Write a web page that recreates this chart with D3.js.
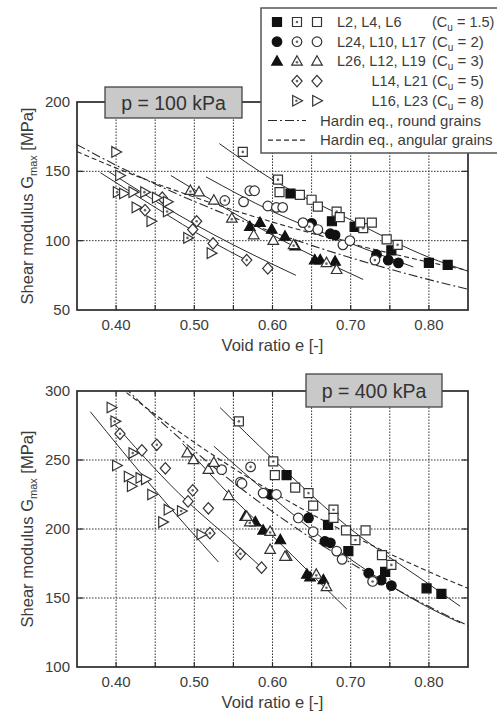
<!DOCTYPE html>
<html>
<head>
<meta charset="utf-8">
<script src="https://cdn.jsdelivr.net/npm/d3@7"></script>
<style>
  body { margin: 0; background: #fff; }
  svg { display: block; font-family: "Liberation Sans", Arial, Helvetica, sans-serif; }
</style>
</head>
<body>
<svg id="chart" width="497" height="713"></svg>
<script>
// ---------- axis ticks ----------
const xTickValues = [0.40, 0.50, 0.60, 0.70, 0.80];
const xGridValues = [0.40, 0.45, 0.50, 0.55, 0.60, 0.65, 0.70, 0.75, 0.80];
const yTicks100 = [50, 100, 150, 200];
const yGrid100 = [100, 150];
const yTicks400 = [100, 150, 200, 250, 300];
const yGrid400 = [150, 200, 250];

// ---------- Hardin equation, sampled along e ----------
const hardinE = [0.35, 0.40, 0.45, 0.50, 0.55, 0.60, 0.65, 0.70, 0.75, 0.80, 0.85];
const hardinRound100   = [169.3, 154.4, 140.8, 128.3, 116.8, 106.3, 96.6, 87.7, 79.5, 71.9, 65.0];
const hardinAngular100 = [164.2, 152.4, 141.5, 131.4, 122.0, 113.4, 105.4, 97.9, 91.0, 84.5, 78.5];
const hardinRound400   = [338.6, 308.8, 281.6, 256.6, 233.6, 212.6, 193.2, 175.4, 159.0, 143.8, 130.0];
const hardinAngular400 = [328.4, 304.8, 283.0, 262.8, 244.0, 226.8, 210.8, 195.8, 182.0, 169.0, 157.0];

// ---------- measured data, p = 100 kPa: [e, Gmax] ----------
const p100_L2  = [[0.623,134],[0.676,114],[0.705,110],[0.752,93],[0.800,84],[0.824,82.5]];
const p100_L4  = [[0.562,164],[0.607,144],[0.682,121],[0.716,109],[0.760,97]];
const p100_L6  = [[0.609,135],[0.635,133],[0.650,129.5],[0.658,124.5],[0.686,117],[0.712,113],[0.727,113],[0.746,101]];
const p100_L24 = [[0.650,112.5],[0.674,105],[0.680,104],[0.733,90],[0.748,86],[0.761,84]];
const p100_L10 = [[0.539,129],[0.571,136],[0.647,110],[0.731,86]];
const p100_L17 = [[0.563,128],[0.577,136],[0.594,125],[0.605,124],[0.613,124],[0.639,113],[0.658,108],[0.690,97],[0.699,100]];
const p100_L26 = [[0.571,110],[0.584,113],[0.599,108],[0.616,103],[0.629,96],[0.654,86],[0.661,86],[0.680,85]];
const p100_L12 = [[0.495,136],[0.548,116],[0.627,97],[0.669,84]];
const p100_L19 = [[0.506,135],[0.525,129],[0.576,104],[0.601,100],[0.682,79]];
const p100_L14 = [[0.437,122],[0.503,114],[0.567,86]];
const p100_L21 = [[0.459,131],[0.498,108],[0.524,98],[0.594,80]];
const p100_L16 = [[0.402,135],[0.437,135],[0.466,121],[0.492,102]];
const p100_L23 = [[0.400,164],[0.405,147],[0.410,134],[0.422,135],[0.426,124],[0.445,114],[0.452,131],[0.466,128],[0.522,91]];

// ---------- measured data, p = 400 kPa ----------
const p400_L2  = [[0.618,239],[0.671,203],[0.697,184],[0.744,169],[0.797,157],[0.816,153]];
const p400_L4  = [[0.557,278],[0.601,249],[0.646,226],[0.678,214],[0.706,192],[0.752,174]];
const p400_L6  = [[0.603,239],[0.629,230],[0.652,217],[0.678,208],[0.694,199],[0.719,199],[0.740,181]];
const p400_L24 = [[0.597,225],[0.646,208],[0.667,191],[0.674,190],[0.723,168],[0.739,163],[0.752,159]];
const p400_L10 = [[0.572,245],[0.559,234],[0.728,162]];
const p400_L17 = [[0.535,243],[0.561,233],[0.588,226],[0.605,225],[0.633,208],[0.652,198],[0.682,184],[0.689,178]];
const p400_L26 = [[0.565,209],[0.578,205],[0.588,199],[0.610,192],[0.644,167],[0.648,165],[0.665,163]];
const p400_L12 = [[0.571,205],[0.597,198],[0.618,180],[0.656,167],[0.669,158]];
const p400_L19 = [[0.491,255],[0.499,250],[0.518,243],[0.525,248],[0.544,224],[0.567,209],[0.597,185],[0.616,180]];
const p400_L14 = [[0.405,269],[0.452,261],[0.498,228],[0.520,197],[0.559,182]];
const p400_L21 = [[0.433,257],[0.463,244],[0.492,220],[0.518,215],[0.586,172]];
const p400_L16 = [[0.399,278],[0.422,255],[0.484,213]];
const p400_L23 = [[0.394,288],[0.401,246],[0.416,238],[0.420,231],[0.431,237],[0.438,236],[0.446,225],[0.460,205],[0.467,214],[0.509,196]];

// ---------- fitted trend lines per grading ----------
const fit100_cu15 = [[0.532,170],[0.60,144],[0.70,115],[0.80,88],[0.85,78]];
const fit100_cu2  = [[0.515,146],[0.60,121],[0.70,98],[0.78,81]];
const fit100_cu3  = [[0.47,147],[0.55,120],[0.60,104],[0.716,72]];
const fit100_cu5  = [[0.39,150],[0.50,112],[0.60,83],[0.63,75]];
const fit100_cu8  = [[0.38,149],[0.45,124],[0.52,100],[0.57,85]];
const fit400_cu15 = [[0.533,288],[0.60,251],[0.70,200],[0.80,160],[0.84,144]];
const fit400_cu2  = [[0.525,260],[0.60,223],[0.70,178],[0.80,143],[0.84,132]];
const fit400_cu3  = [[0.485,262],[0.55,222],[0.60,195],[0.65,167],[0.695,142]];
const fit400_cu5  = [[0.392,280],[0.48,226],[0.563,184],[0.59,170]];
const fit400_cu8  = [[0.367,285],[0.45,228],[0.531,176]];

// ---------- legend ----------
const legendNames = ["L2, L4, L6", "L24, L10, L17", "L26, L12, L19", "L14, L21", "L16, L23"];
const legendCu = ["1.5", "2", "3", "5", "8"];
const hardinLabels = ["Hardin eq., round grains", "Hardin eq., angular grains"];

// ---------- build ----------
const shapes = ["square", "circle", "triangle", "diamond", "rtriangle"];
const specimens100 = [
  [p100_L2, "square", "filled"], [p100_L4, "square", "dotted"], [p100_L6, "square", "open"],
  [p100_L24, "circle", "filled"], [p100_L10, "circle", "dotted"], [p100_L17, "circle", "open"],
  [p100_L26, "triangle", "filled"], [p100_L12, "triangle", "dotted"], [p100_L19, "triangle", "open"],
  [p100_L14, "diamond", "dotted"], [p100_L21, "diamond", "open"],
  [p100_L16, "rtriangle", "dotted"], [p100_L23, "rtriangle", "open"]
];
const specimens400 = [
  [p400_L2, "square", "filled"], [p400_L4, "square", "dotted"], [p400_L6, "square", "open"],
  [p400_L24, "circle", "filled"], [p400_L10, "circle", "dotted"], [p400_L17, "circle", "open"],
  [p400_L26, "triangle", "filled"], [p400_L12, "triangle", "dotted"], [p400_L19, "triangle", "open"],
  [p400_L14, "diamond", "dotted"], [p400_L21, "diamond", "open"],
  [p400_L16, "rtriangle", "dotted"], [p400_L23, "rtriangle", "open"]
];

const svg = d3.select("#chart");
const INK = "#2a2a2a";
const TEXT = "#3c3c3c";

const x = d3.scaleLinear().domain([0.35, 0.85]).range([77, 468]);

const markerPaths = {
  square: "M-4.5,-4.5H4.5V4.5H-4.5Z",
  triangle: "M0,-5.7L5.3,3.7H-5.3Z",
  diamond: "M0,-5.7L5.1,0L0,5.7L-5.1,0Z",
  rtriangle: "M-4.3,-5.3L5.5,0L-4.3,5.3Z"
};

function drawMarker(g, shape, variant, px, py) {
  const fill = variant === "filled" ? "#111" : "#fff";
  const stroke = variant === "filled" ? "#111" : "#333";
  if (shape === "circle") {
    g.append("circle").attr("cx", px).attr("cy", py).attr("r", 4.8)
      .attr("fill", fill).attr("stroke", stroke).attr("stroke-width", 1.2);
  } else {
    g.append("path").attr("d", markerPaths[shape])
      .attr("transform", `translate(${px},${py})`)
      .attr("fill", fill).attr("stroke", stroke).attr("stroke-width", 1.2)
      .attr("stroke-linejoin", "miter");
  }
  if (variant === "dotted") {
    const dy = shape === "triangle" ? 0.8 : 0;
    const dx = shape === "rtriangle" ? -0.6 : 0;
    g.append("circle").attr("cx", px + dx).attr("cy", py + dy).attr("r", 1.3).attr("fill", "#666");
  }
}

function drawPanel(cfg) {
  const y = d3.scaleLinear().domain(cfg.yDomain).range(cfg.yRange);
  const [x0, x1] = x.range();
  const [yb, yt] = cfg.yRange;
  const g = svg.append("g");

  const clipId = "clip" + cfg.id;
  svg.append("clipPath").attr("id", clipId)
    .append("rect").attr("x", x0).attr("y", yt).attr("width", x1 - x0).attr("height", yb - yt);

  // grid
  const grid = g.append("g").attr("stroke", "#3a3a3a").attr("stroke-width", 1).attr("stroke-dasharray", "1.6,1.4");
  grid.selectAll("line.v").data(xGridValues).join("line")
    .attr("x1", d => x(d)).attr("x2", d => x(d)).attr("y1", yb).attr("y2", yt);
  grid.selectAll("line.h").data(cfg.yGrid).join("line")
    .attr("x1", x0).attr("x2", x1).attr("y1", d => y(d)).attr("y2", d => y(d));

  const line = d3.line().x(d => x(d[0])).y(d => y(d[1])).curve(d3.curveMonotoneX);
  const plot = g.append("g").attr("clip-path", `url(#${clipId})`);

  // Hardin equation curves
  const toPts = vals => hardinE.map((e, i) => [e, vals[i]]);
  plot.append("path").attr("d", line(toPts(cfg.hardinRound)))
    .attr("fill", "none").attr("stroke", INK).attr("stroke-width", 1.1).attr("stroke-dasharray", "9,3,2,3");
  plot.append("path").attr("d", line(toPts(cfg.hardinAngular)))
    .attr("fill", "none").attr("stroke", INK).attr("stroke-width", 1.1).attr("stroke-dasharray", "5,3");

  // fitted lines
  cfg.fits.forEach(f => {
    plot.append("path").attr("d", line(f))
      .attr("fill", "none").attr("stroke", INK).attr("stroke-width", 1);
  });

  // markers
  const mg = g.append("g");
  cfg.specimens.forEach(([pts, shape, variant]) => {
    pts.forEach(p => drawMarker(mg, shape, variant, x(p[0]), y(p[1])));
  });

  // frame
  g.append("rect").attr("x", x0).attr("y", yt).attr("width", x1 - x0).attr("height", yb - yt)
    .attr("fill", "none").attr("stroke", INK).attr("stroke-width", 1.7);

  // inward ticks
  const tk = g.append("g").attr("stroke", INK).attr("stroke-width", 1.2);
  xGridValues.forEach(v => {
    tk.append("line").attr("x1", x(v)).attr("x2", x(v)).attr("y1", yb).attr("y2", yb - 5);
    tk.append("line").attr("x1", x(v)).attr("x2", x(v)).attr("y1", yt).attr("y2", yt + 5);
  });
  cfg.yGrid.forEach(v => {
    tk.append("line").attr("x1", x0).attr("x2", x0 + 6).attr("y1", y(v)).attr("y2", y(v));
    tk.append("line").attr("x1", x1).attr("x2", x1 - 6).attr("y1", y(v)).attr("y2", y(v));
  });

  // tick labels
  g.append("g").selectAll("text").data(xTickValues).join("text")
    .attr("x", d => x(d)).attr("y", yb + 20).attr("text-anchor", "middle")
    .attr("font-size", 15).attr("fill", TEXT).text(d => d3.format(".2f")(d));
  g.append("g").selectAll("text").data(cfg.yTicks).join("text")
    .attr("x", 70).attr("y", d => y(d) + 5).attr("text-anchor", "end")
    .attr("font-size", 15).attr("fill", TEXT).text(d => d);

  // axis titles
  g.append("text").attr("x", (x0 + x1) / 2).attr("y", yb + 41).attr("text-anchor", "middle")
    .attr("font-size", 16.5).attr("fill", TEXT).text("Void ratio e [-]");
  const yl = g.append("text")
    .attr("transform", `translate(33,${(yb + yt) / 2}) rotate(-90)`)
    .attr("text-anchor", "middle").attr("font-size", 16.5).attr("fill", TEXT);
  yl.append("tspan").text("Shear modulus G");
  yl.append("tspan").attr("font-size", 11).attr("dy", 4).text("max");
  yl.append("tspan").attr("dy", -4).text(" [MPa]");

  // pressure label box
  const b = cfg.box;
  g.append("rect").attr("x", b.x).attr("y", b.y).attr("width", b.w).attr("height", b.h)
    .attr("fill", "#c9c9c9").attr("stroke", "#444").attr("stroke-width", 1.3);
  g.append("text").attr("x", b.x + b.w / 2).attr("y", b.y + b.h / 2 + 7)
    .attr("text-anchor", "middle").attr("font-size", 19.5).attr("fill", "#333").text(cfg.title);
}

drawPanel({
  id: "100", yDomain: [50, 200], yRange: [310, 102],
  yTicks: yTicks100, yGrid: yGrid100,
  hardinRound: hardinRound100, hardinAngular: hardinAngular100,
  fits: [fit100_cu15, fit100_cu2, fit100_cu3, fit100_cu5, fit100_cu8],
  specimens: specimens100,
  title: "p = 100 kPa", box: { x: 105, y: 87, w: 137, h: 31 }
});

drawPanel({
  id: "400", yDomain: [100, 300], yRange: [667, 391],
  yTicks: yTicks400, yGrid: yGrid400,
  hardinRound: hardinRound400, hardinAngular: hardinAngular400,
  fits: [fit400_cu15, fit400_cu2, fit400_cu3, fit400_cu5, fit400_cu8],
  specimens: specimens400,
  title: "p = 400 kPa", box: { x: 306, y: 374, w: 136, h: 33 }
});

// ---------- legend ----------
const lg = svg.append("g");
lg.append("rect").attr("x", 261).attr("y", 8).attr("width", 250).attr("height", 145)
  .attr("fill", "#fff").attr("stroke", "#555").attr("stroke-width", 1.5);
const rowY = i => 22 + i * 19.7;
const colX = [277, 297, 317];
const variantsAll = ["filled", "dotted", "open"];
shapes.forEach((shape, i) => {
  const cy = rowY(i);
  variantsAll.forEach((v, j) => {
    if (i >= 3 && j === 0) return;
    drawMarker(lg, shape, v, colX[j], cy);
  });
  const nameT = lg.append("text").attr("y", cy + 5).attr("font-size", 14.5).attr("fill", TEXT)
    .text(legendNames[i]);
  if (i < 3) nameT.attr("x", 337).attr("text-anchor", "start");
  else nameT.attr("x", 428).attr("text-anchor", "end");
  const cu = lg.append("text").attr("x", 432).attr("y", cy + 5)
    .attr("font-size", i === 0 ? 14.5 : 15).attr("fill", TEXT);
  cu.append("tspan").text("(C");
  cu.append("tspan").attr("font-size", 10).attr("dy", 4).text("u");
  cu.append("tspan").attr("dy", -4).text(` = ${legendCu[i]})`);
});
hardinLabels.forEach((lab, k) => {
  const cy = rowY(5 + k);
  lg.append("line").attr("x1", 268).attr("x2", 306).attr("y1", cy).attr("y2", cy)
    .attr("stroke", INK).attr("stroke-width", 1.2)
    .attr("stroke-dasharray", k === 0 ? "9,3,2,3" : "5,3");
  lg.append("text").attr("x", 320).attr("y", cy + 5).attr("font-size", 15).attr("fill", TEXT).text(lab);
});
</script>
</body>
</html>
